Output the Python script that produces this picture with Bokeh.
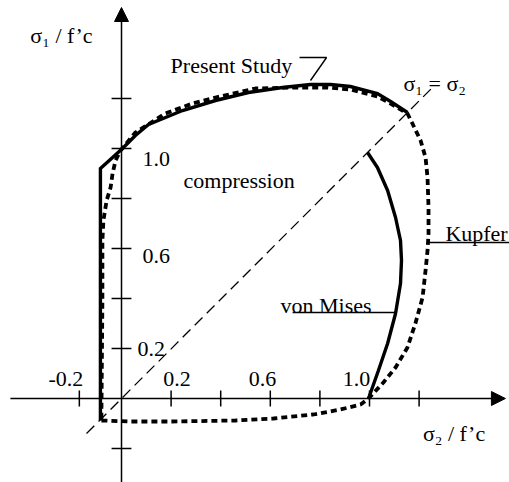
from bokeh.plotting import figure
from bokeh.models import Range1d, Arrow, NormalHead
from bokeh.core.properties import value
from bokeh.embed import file_html
from bokeh.resources import INLINE

# ---- data ----
present_x = [-0.085, -0.085, 0.004, 0.056, 0.109, 0.246, 0.379, 0.512, 0.649, 0.762, 0.843, 0.923, 1.032, 1.085, 1.153]
present_y = [-0.088, 0.92, 1.0, 1.052, 1.096, 1.152, 1.192, 1.224, 1.244, 1.256, 1.256, 1.248, 1.22, 1.188, 1.144]

kupfer_x = [-0.081, 0.036, 0.198, 0.46, 0.613, 0.774, 0.883, 0.964, 0.996, 1.056, 1.105, 1.153, 1.185,
            1.214, 1.226, 1.234, 1.238, 1.238, 1.234, 1.226, 1.206, 1.173, 1.153, 1.085, 1.032, 0.923,
            0.831, 0.694, 0.54, 0.379, 0.286, 0.177, 0.056, -0.004, -0.024, -0.036, -0.044,
            -0.060, -0.073, -0.077, -0.077, -0.081, -0.081]
kupfer_y = [-0.088, -0.092, -0.092, -0.088, -0.08, -0.064, -0.044, -0.024, 0.0, 0.064, 0.124, 0.204, 0.30,
            0.404, 0.512, 0.592, 0.66, 0.764, 0.884, 0.964, 1.032, 1.10, 1.14, 1.18, 1.208, 1.236,
            1.244, 1.244, 1.24, 1.204, 1.18, 1.14, 1.064, 0.992, 0.952, 0.90, 0.844,
            0.792, 0.712, 0.632, 0.392, -0.068, -0.088]

mises_x = [0.996, 1.036, 1.073, 1.105, 1.125, 1.129, 1.125, 1.105, 1.073, 1.032, 0.992]
mises_y = [0.0, 0.112, 0.22, 0.34, 0.46, 0.552, 0.632, 0.724, 0.832, 0.924, 0.984]

diag_x = [-0.141, 1.254]
diag_y = [-0.14, 1.244]

x_ticks = [-0.17, 0.2, 0.4, 0.6, 0.8, 1.0, 1.2]
y_ticks = [-0.2, 0.2, 0.4, 0.6, 0.8, 1.0, 1.2]

x_tick_labels = ["-0.2", "0.2", "0.6", "1.0"]
x_tick_label_x = [-0.224, 0.224, 0.569, 0.948]
x_tick_label_y = [0.08, 0.08, 0.08, 0.08]

y_tick_labels = ["1.0", "0.6", "0.2"]
y_tick_label_x = [0.085, 0.085, 0.065]
y_tick_label_y = [0.96, 0.572, 0.2]

x_axis_span = [-0.448, 1.548]
y_axis_span = [-0.34, 1.564]

# annotations
ann_text = ["Present Study", "compression", "σ₁ = σ₂", "Kupfer", "von Mises"]
ann_x = [0.198, 0.25, 1.137, 1.306, 0.641]
ann_y = [1.332, 0.872, 1.26, 0.662, 0.374]

axis_label_text = ["σ₁ / f’c", "σ₂ / f’c"]
axis_label_x = [-0.242, 1.341]
axis_label_y = [1.452, -0.14]

leader_present_x = [0.718, 0.827, 0.762]
leader_present_y = [1.364, 1.364, 1.272]
leader_kupfer_x = [1.238, 1.57]
leader_kupfer_y = [0.624, 0.624]
leader_mises_x = [0.69, 1.105]
leader_mises_y = [0.344, 0.344]

FONT = value("Liberation Serif")

p = figure(width=509, height=482, output_backend="svg", toolbar_location=None,
           x_range=Range1d(-0.4879, 1.5645), y_range=Range1d(-0.336, 1.592),
           x_axis_type=None, y_axis_type=None, min_border=0)
p.grid.visible = False
p.outline_line_color = None
p.background_fill_color = "white"

# axes with arrows
p.add_layout(Arrow(end=NormalHead(size=14, fill_color="black", line_color="black"),
                   x_start=x_axis_span[0], y_start=0, x_end=x_axis_span[1], y_end=0,
                   line_width=1.5, line_color="black"))
p.add_layout(Arrow(end=NormalHead(size=14, fill_color="black", line_color="black"),
                   x_start=0, y_start=y_axis_span[0], x_end=0, y_end=y_axis_span[1],
                   line_width=1.5, line_color="black"))

# ticks
p.segment(x0=x_ticks, y0=[-0.032] * len(x_ticks), x1=x_ticks, y1=[0.032] * len(x_ticks),
          line_color="black", line_width=1.5)
p.segment(x0=[-0.04] * len(y_ticks), y0=y_ticks, x1=[0.04] * len(y_ticks), y1=y_ticks,
          line_color="black", line_width=1.5)

# diagonal sigma1 = sigma2
p.line(diag_x, diag_y, line_color="black", line_width=1.3, line_dash="11 6")

# curves
p.line(kupfer_x, kupfer_y, line_color="black", line_width=3.8, line_dash="6 4")
p.line(present_x, present_y, line_color="black", line_width=3.4, line_join="miter")
p.line(mises_x, mises_y, line_color="black", line_width=3.4)

# leader lines
p.line(leader_present_x, leader_present_y, line_color="black", line_width=1.4)
p.line(leader_kupfer_x, leader_kupfer_y, line_color="black", line_width=1.4)
p.line(leader_mises_x, leader_mises_y, line_color="black", line_width=1.4)

# texts
p.text(x=x_tick_label_x, y=x_tick_label_y, text=x_tick_labels, text_font=FONT,
       text_font_size="22px", text_align="center", text_baseline="alphabetic", text_color="black")
p.text(x=y_tick_label_x, y=y_tick_label_y, text=y_tick_labels, text_font=FONT,
       text_font_size="22px", text_align="left", text_baseline="alphabetic", text_color="black")
p.text(x=ann_x, y=ann_y, text=ann_text, text_font=FONT,
       text_font_size="22px", text_align="left", text_baseline="alphabetic", text_color="black")
p.text(x=axis_label_x, y=axis_label_y, text=axis_label_text, text_font=FONT,
       text_font_size="22px", text_align="center", text_baseline="alphabetic", text_color="black")

open("out.html", "w").write(file_html(p, INLINE))
